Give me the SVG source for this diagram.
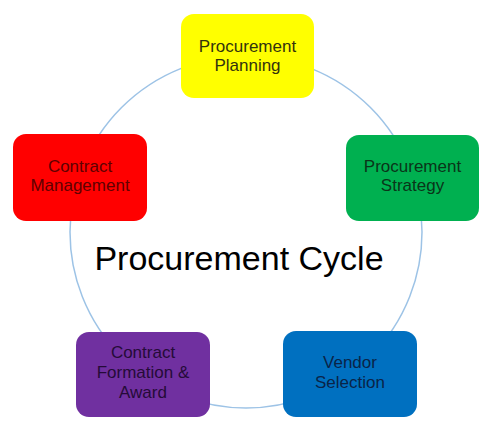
<svg xmlns="http://www.w3.org/2000/svg" width="488" height="432" viewBox="0 0 488 432">
<style>
.box{stroke:none}
.t{font-family:"Liberation Sans",Arial,sans-serif;font-size:17px;text-anchor:middle}
.title{font-family:"Liberation Sans",Arial,sans-serif;font-size:34px;text-anchor:middle;fill:#000}
</style>
<rect width="488" height="432" fill="#fff"/>
<g id="connectors">
<circle cx="246" cy="232" r="176" fill="none" stroke="#9dc3e6" stroke-width="1.5"/>
</g>
<g id="title"><text class="title" x="239" y="270">Procurement Cycle</text></g>
<g id="planning">
<rect class="box" x="181" y="14" width="133" height="84" rx="13" fill="#ffff00"/>
<text class="t" x="247.5" y="52" fill="#33330d">Procurement</text>
<text class="t" x="247.5" y="71" fill="#33330d">Planning</text>
</g>
<g id="strategy">
<rect class="box" x="346" y="135" width="133" height="86" rx="13" fill="#00b050"/>
<text class="t" x="412.5" y="172" fill="#0a3519">Procurement</text>
<text class="t" x="412.5" y="191" fill="#0a3519">Strategy</text>
</g>
<g id="vendor">
<rect class="box" x="283" y="331" width="134" height="86" rx="13" fill="#0070c0"/>
<text class="t" x="350" y="368" fill="#0a2448">Vendor</text>
<text class="t" x="350" y="388" fill="#0a2448">Selection</text>
</g>
<g id="formation">
<rect class="box" x="76" y="332" width="134" height="85" rx="13" fill="#7030a0"/>
<text class="t" x="143" y="358" fill="#250b38">Contract</text>
<text class="t" x="143" y="378" fill="#250b38">Formation &amp;</text>
<text class="t" x="143" y="398" fill="#250b38">Award</text>
</g>
<g id="management">
<rect class="box" x="13" y="134" width="134" height="87" rx="13" fill="#ff0000"/>
<text class="t" x="80" y="172" fill="#600000">Contract</text>
<text class="t" x="80" y="191" fill="#600000">Management</text>
</g>
</svg>
